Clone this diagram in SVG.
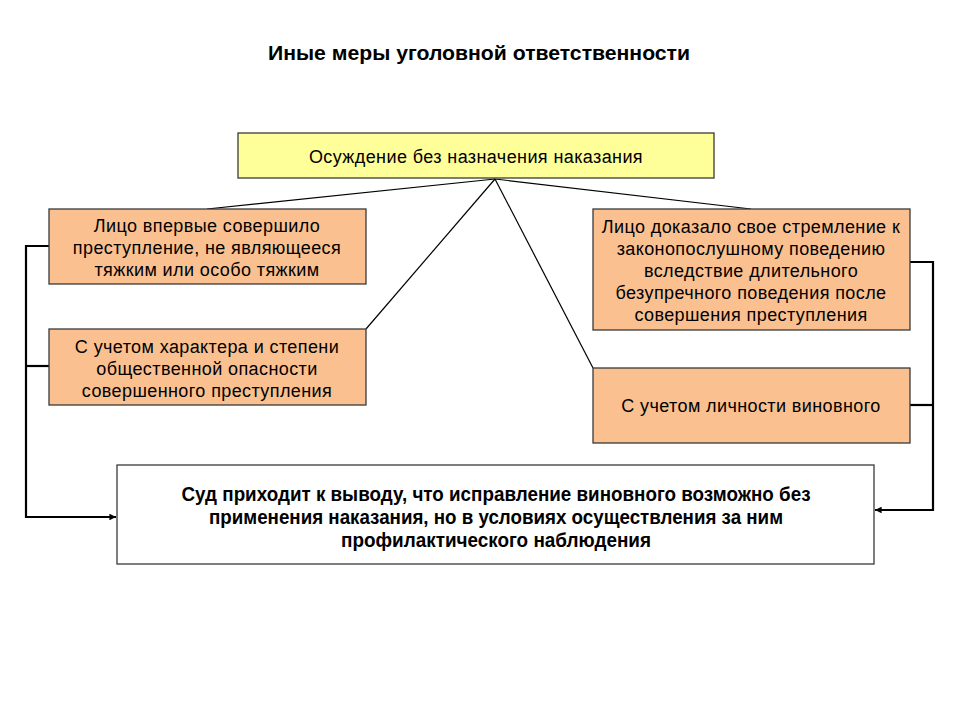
<svg xmlns="http://www.w3.org/2000/svg" width="960" height="720" viewBox="0 0 960 720">
<style>
.t{font-family:"Liberation Sans",Arial,sans-serif;font-size:18px;letter-spacing:0.4px;fill:#000;text-anchor:middle}
.b{font-family:"Liberation Sans",Arial,sans-serif;font-size:20px;font-weight:bold;fill:#000;text-anchor:middle}
.h{font-family:"Liberation Sans",Arial,sans-serif;font-size:20px;font-weight:bold;fill:#000;text-anchor:middle}
.peach{fill:#FAC090;stroke:#3a3a3a;stroke-width:1.3}
.thin{stroke:#000;stroke-width:1.2;fill:none}
.thick{stroke:#000;stroke-width:2.2;fill:none}
</style>
<defs>
<marker id="arr" viewBox="0 0 10 10" refX="10" refY="5" markerWidth="3" markerHeight="3" orient="auto" markerUnits="strokeWidth">
<path d="M0,0 L10,5 L0,10 z" fill="#000"/>
</marker>
</defs>
<rect width="960" height="720" fill="#fff"/>
<text class="h" x="479" y="60" textLength="422" lengthAdjust="spacingAndGlyphs">Иные меры уголовной ответственности</text>
<g id="connectors">
<line class="thin" x1="495" y1="179" x2="207" y2="209"/>
<line class="thin" x1="495" y1="179" x2="366" y2="329"/>
<line class="thin" x1="495" y1="179" x2="593" y2="368"/>
<line class="thin" x1="495" y1="179" x2="751" y2="209"/>
<polyline class="thick" points="49,246 26,246 26,517 116,517" marker-end="url(#arr)"/>
<line class="thick" x1="49" y1="366" x2="26" y2="366"/>
<polyline class="thick" points="910,262 933,262 933,510 875,510" marker-end="url(#arr)"/>
<line class="thick" x1="910" y1="405" x2="933" y2="405"/>
</g>
<g id="top">
<rect x="238" y="133" width="476" height="45" fill="#FFFF99" stroke="#3a3a3a" stroke-width="1.3"/>
<text class="t" x="476" y="163">Осуждение без назначения наказания</text>
</g>
<g id="left1">
<rect class="peach" x="49" y="209" width="317" height="75"/>
<text class="t" x="207" y="232">Лицо впервые совершило</text>
<text class="t" x="207" y="254">преступление, не являющееся</text>
<text class="t" x="207" y="276">тяжким или особо тяжким</text>
</g>
<g id="left2">
<rect class="peach" x="49" y="329" width="317" height="76"/>
<text class="t" x="207" y="353">С учетом характера и степени</text>
<text class="t" x="207" y="375">общественной опасности</text>
<text class="t" x="207" y="397">совершенного преступления</text>
</g>
<g id="right1">
<rect class="peach" x="593" y="209" width="317" height="121"/>
<text class="t" x="751" y="233">Лицо доказало свое стремление к</text>
<text class="t" x="751" y="255">законопослушному поведению</text>
<text class="t" x="751" y="277">вследствие длительного</text>
<text class="t" x="751" y="299">безупречного поведения после</text>
<text class="t" x="751" y="321">совершения преступления</text>
</g>
<g id="right2">
<rect class="peach" x="593" y="368" width="317" height="75"/>
<text class="t" x="751" y="412">С учетом личности виновного</text>
</g>
<g id="bottom">
<rect x="117" y="465" width="757" height="99" fill="#fff" stroke="#3a3a3a" stroke-width="1.3"/>
<text class="b" x="496" y="501" textLength="629" lengthAdjust="spacingAndGlyphs">Суд приходит к выводу, что исправление виновного возможно без</text>
<text class="b" x="496" y="524" textLength="574" lengthAdjust="spacingAndGlyphs">применения наказания, но в условиях осуществления за ним</text>
<text class="b" x="496" y="547" textLength="310" lengthAdjust="spacingAndGlyphs">профилактического наблюдения</text>
</g>
</svg>
